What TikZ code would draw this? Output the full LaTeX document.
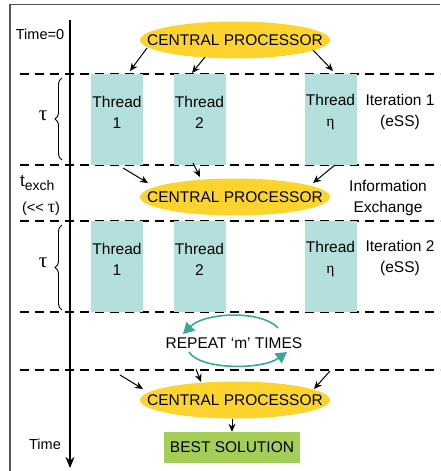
\documentclass[tikz,border=0pt]{standalone}
\usepackage{fontspec}
\setmainfont{Liberation Sans}
\newfontfamily\grkfont{Liberation Serif}
\usepackage{xcolor}
\usetikzlibrary{arrows.meta, positioning, shapes.geometric, decorations.pathreplacing}

\definecolor{cpuyellow}{HTML}{FDD42E}
\definecolor{threadblue}{HTML}{B3E0DC}
\definecolor{loopteal}{HTML}{38A89D}
\definecolor{bestgreen}{HTML}{A5CE58}
\definecolor{framegray}{HTML}{555555}
\newcommand{\cpulabel}{\makebox[0pt]{CENTRAL PROCESSOR}}
\newcommand{\tautxt}{{\grkfont\fontsize{21}{21}\selectfont τ}}

\begin{document}
\begin{tikzpicture}[x=1pt, y=-1pt,
        txt/.style={font=\fontsize{15.5}{21}\selectfont, align=center, inner sep=0pt},
        cpu/.style={ellipse, fill=cpuyellow, minimum width=190pt, minimum height=37pt, inner sep=0pt, font=\fontsize{15.5}{21}\selectfont},
        thread/.style={fill=threadblue, minimum width=52pt, minimum height=91pt, inner sep=0pt},
        dashline/.style={dash pattern=on 9pt off 6pt, line width=1.2pt},
        arr/.style={-{Stealth[length=8pt, width=7pt]}, line width=1pt},
        repeatarr/.style={-{Triangle[length=11pt, width=12pt]}, line width=1.6pt, color=loopteal},
        tbrace/.style={decorate, decoration={brace, amplitude=7pt}, line width=0.9pt}
      ]
      \useasboundingbox (0,0) rectangle (440,471);
      \draw[framegray, line width=1.5pt] (10,471) -- (10,4.5) -- (440,4.5);
      \coordinate (t0) at (70,20);
      \coordinate (tend) at (70,468);
      \draw[-{Stealth[length=11pt, width=9pt]}, line width=1.8pt] (t0) -- (tend);
      \foreach \y in {74,165,221,312,370}
        \draw[dashline] (20,\y) -- (440,\y);

      \node[txt, font=\fontsize{14.5}{18}\selectfont] (time0) at (40,34) {Time=0};
      \node[txt, font=\fontsize{14.5}{18}\selectfont] (time) at (45,444) {Time};

      \node[cpu] (cp1) at (235,40) {\cpulabel};
      \node[cpu] (cp2) at (235,197) {\cpulabel};
      \node[cpu] (cp3) at (235,400) {\cpulabel};

      \foreach \x/\n/\lab in {117/1/1, 199.5/2/2, 330.5/3/{\grkfont η}} {
        \node[thread] (a\n) at (\x,119.5) {};
        \node[txt] at (\x,112) {Thread\\\lab};
        \node[thread] (b\n) at (\x,266.5) {};
        \node[txt] at (\x,259) {Thread\\\lab};
      }

      \node[txt] (it1) at (400,112) {Iteration 1\\(eSS)};
      \node[txt] (info) at (388,198) {Information\\Exchange};
      \node[txt] (it2) at (400,258) {Iteration 2\\(eSS)};

      \node[txt] (tau1) at (43,116) {\tautxt};
      \draw[tbrace] (62,160) -- (62,78);
      \node[txt] (tau2) at (43,263) {\tautxt};
      \draw[tbrace] (62,310) -- (62,225);
      \node[txt, anchor=west, font=\fontsize{17}{18}\selectfont] (texch) at (20,183) {t\raisebox{-4pt}{\fontsize{14}{14}\selectfont exch}};
      \node[txt, font=\fontsize{14.5}{18}\selectfont] (ll) at (41,209) {({<}{<} {\grkfont\fontsize{18}{18}\selectfont τ})};

      \coordinate (s1) at (147,48);  \coordinate (e1) at (130,71);
      \coordinate (s2) at (205,57);  \coordinate (e2) at (192,73);
      \coordinate (s3) at (313,50);  \coordinate (e3) at (333,71);
      \draw[arr] (s1) -- (e1);
      \draw[arr] (s2) -- (e2);
      \draw[arr] (s3) -- (e3);

      \coordinate (f1) at (123,168); \coordinate (g1) at (148,183);
      \coordinate (f2) at (193,163); \coordinate (g2) at (200,177);
      \coordinate (f3) at (335,165); \coordinate (g3) at (313,183);
      \draw[arr] (f1) -- (g1);
      \draw[arr] (f2) -- (g2);
      \draw[arr] (f3) -- (g3);

      \node[txt] (rep) at (234,343) {REPEAT ‘m’ TIMES};
      \coordinate (r1) at (278,328); \coordinate (r2) at (183,334);
      \coordinate (r3) at (189,352); \coordinate (r4) at (287,352);
      \draw[repeatarr] (r1) .. controls (262,310) and (205,312) .. (r2);
      \draw[repeatarr] (r3) .. controls (200,370) and (262,370) .. (r4);

      \coordinate (h1) at (120,375); \coordinate (k1) at (143,389);
      \coordinate (h2) at (196,369); \coordinate (k2) at (201,382);
      \coordinate (h3) at (330,371); \coordinate (k3) at (314,389);
      \draw[arr] (h1) -- (k1);
      \draw[arr] (h2) -- (k2);
      \draw[arr] (h3) -- (k3);

      \node[txt, fill=bestgreen, minimum width=136pt, minimum height=31pt] (best) at (232,447.5) {BEST SOLUTION};
      \draw[arr] (best.north |- cp3.south) -- (best.north);
    \end{tikzpicture}
\end{document}
